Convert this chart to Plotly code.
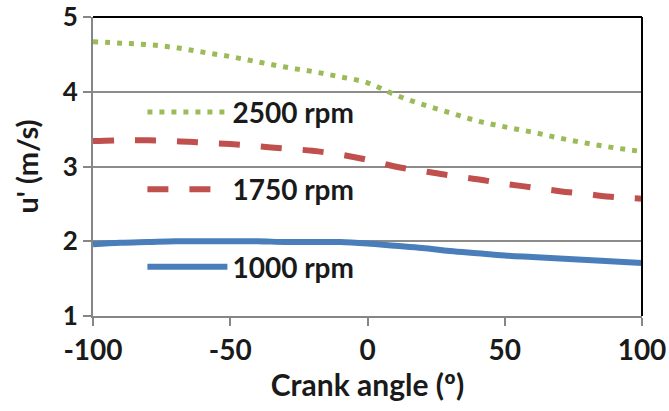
import plotly.graph_objects as go

crank_angle = [-100, -90, -80, -70, -60, -50, -40, -30, -20, -10, 0, 10, 20, 30, 40, 50, 60, 70, 80, 90, 100]
u_2500 = [4.67, 4.65, 4.63, 4.59, 4.53, 4.47, 4.40, 4.33, 4.27, 4.20, 4.12, 3.96, 3.83, 3.72, 3.61, 3.53, 3.46, 3.38, 3.31, 3.25, 3.20]
u_1750 = [3.34, 3.35, 3.35, 3.34, 3.32, 3.30, 3.27, 3.24, 3.21, 3.16, 3.09, 3.00, 2.94, 2.88, 2.83, 2.77, 2.72, 2.67, 2.63, 2.59, 2.57]
u_1000 = [1.96, 1.98, 1.99, 2.00, 2.00, 2.00, 2.00, 1.99, 1.99, 1.99, 1.97, 1.94, 1.91, 1.87, 1.84, 1.81, 1.79, 1.77, 1.75, 1.73, 1.71]
series_names = ["2500 rpm", "1750 rpm", "1000 rpm"]
x_ticks = [-100, -50, 0, 50, 100]
x_tick_labels = ["-100", "-50", "0", "50", "100"]
y_ticks = [1, 2, 3, 4, 5]
y_tick_labels = ["1", "2", "3", "4", "5"]

FONT = "Lato"
TXT = "#1a1a1a"
fig = go.Figure()
fig.add_trace(go.Scatter(x=crank_angle, y=u_2500, name=series_names[0], mode="lines",
                         legendgroup="a",
                         line=dict(color="#9BBB59", width=5, dash="5px,7px", shape="spline")))
fig.add_trace(go.Scatter(x=crank_angle, y=u_1750, name=series_names[1], mode="lines",
                         legendgroup="b",
                         line=dict(color="#C0504D", width=6, dash="21px,21px", shape="spline")))
fig.add_trace(go.Scatter(x=crank_angle, y=u_1000, name=series_names[2], mode="lines",
                         legendgroup="c",
                         line=dict(color="#4A7EBB", width=6, shape="spline")))

fig.update_layout(
    width=669, height=411,
    margin=dict(l=93, r=27, t=17, b=95),
    paper_bgcolor="white", plot_bgcolor="white",
    font=dict(family=FONT, size=26, color=TXT),
    showlegend=True,
    legend=dict(x=0.09, y=0.765, xanchor="left", yanchor="top",
                bgcolor="rgba(0,0,0,0)", itemwidth=80,
                tracegroupgap=38, font=dict(family=FONT, size=28, color=TXT, weight="bold"),
                traceorder="grouped"),
    xaxis=dict(range=[-100, 100], tickvals=x_ticks, ticktext=x_tick_labels,
               showgrid=False, zeroline=False, automargin=False,
               ticklabeloverflow="allow",
               showline=True, linecolor="#868686", linewidth=2,
               ticks="outside", ticklen=8, tickcolor="#868686", tickwidth=2,
               tickfont=dict(family=FONT, size=28, color=TXT, weight="bold"),
               title=dict(text="Crank angle (º)", font=dict(family=FONT, size=30, color=TXT, weight="bold"), standoff=4)),
    yaxis=dict(range=[1, 5], tickvals=y_ticks, ticktext=y_tick_labels,
               showgrid=True, gridcolor="#8c8c8c", gridwidth=2,
               zeroline=False, automargin=False, ticklabeloverflow="allow",
               showline=True, linecolor="#868686", linewidth=2,
               ticks="outside", ticklen=8, tickcolor="#868686", tickwidth=2,
               tickfont=dict(family=FONT, size=26, color=TXT, weight="bold"),
               title=dict(text="u' (m/s)", font=dict(family=FONT, size=29, color=TXT, weight="bold"), standoff=16)),
    shapes=[
        dict(type="line", xref="paper", yref="paper", x0=0, x1=1, y0=1, y1=1,
             line=dict(color="black", width=2)),
        dict(type="line", xref="paper", yref="paper", x0=1, x1=1, y0=0, y1=1,
             line=dict(color="black", width=2)),
    ],
)

fig.write_html("out.html")
